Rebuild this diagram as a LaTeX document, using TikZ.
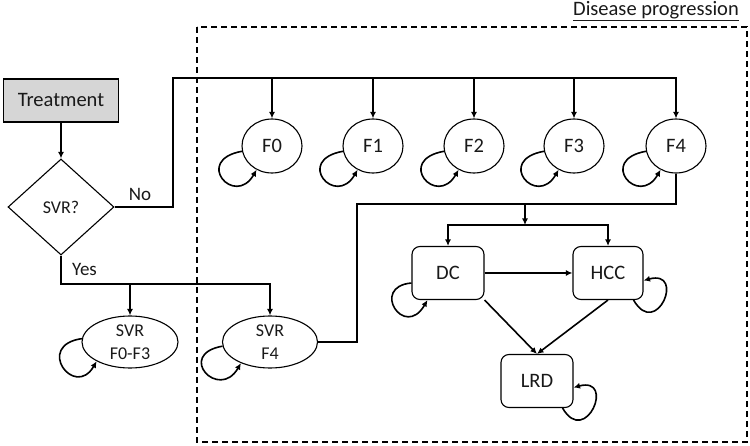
\documentclass[tikz,border=0pt]{standalone}
\usepackage{fontspec}
\setmainfont{Carlito}
\usetikzlibrary{shapes.geometric,arrows.meta}
\begin{document}
\begin{tikzpicture}[x=1pt,y=1pt,
  every node/.style={text=black!90},
  bigfont/.style={font=\fontsize{20.5}{22}\selectfont},
  smallfont/.style={font=\fontsize{18}{23}\selectfont},
  rbox/.style={draw, line width=1.1pt, rounded corners=8pt, minimum width=72pt, minimum height=53pt, inner sep=0pt, bigfont},
  fstate/.style={draw, ellipse, line width=1.1pt, minimum width=60pt, minimum height=54pt, inner sep=0pt, bigfont},
  svrstate/.style={draw, ellipse, line width=1.1pt, minimum width=96pt, minimum height=52pt, inner sep=0pt, align=center, smallfont},
  conn/.style={line width=1.6pt},
  arr/.style={conn, -{Latex[length=6.5pt,width=6pt]}},
  lbl/.style={font=\fontsize{19}{21}\selectfont, inner sep=0pt}]
\useasboundingbox (0,0) rectangle (750,-446);

% frame
\draw[line width=1.3pt, dash pattern=on 6pt off 4pt] (197,-27) rectangle (747,-442);
\node[bigfont, anchor=east, inner sep=0pt] (title) at (739,-11) {\underline{Disease progression}};

% nodes
\node[draw, fill=black!16, line width=1.1pt, minimum width=115pt, minimum height=43pt, inner sep=0pt, bigfont] (treat) at (61,-100.5) {Treatment};
\node[draw, diamond, line width=1.1pt, minimum width=106pt, minimum height=96pt, inner sep=0pt, smallfont] (svrq) at (61,-207) {SVR?};

\node[fstate] (F0) at (272,-146) {F0};
\node[fstate] (F1) at (373,-146) {F1};
\node[fstate] (F2) at (474,-146) {F2};
\node[fstate] (F3) at (574,-146) {F3};
\node[fstate] (F4) at (676,-146) {F4};

\node[svrstate] (SVR03) at (130,-342) {SVR\\F0-F3};
\node[svrstate, minimum width=95pt] (SVR4) at (270,-342) {SVR\\F4};

\node[rbox] (DC) at (448,-273) {DC};
\node[rbox, minimum width=70pt] (HCC) at (608,-273) {HCC};
\node[rbox] (LRD) at (537,-381) {LRD};

\node[lbl] (no) at (140,-194) {No};
\node[lbl] (yes) at (84.5,-269) {Yes};

% helper coordinates
\coordinate (nocorner) at (173,-78);
\coordinate (yesline) at (0,-284);
\coordinate (bend) at (357,-204);
\coordinate (j1) at (525,-204);
\coordinate (j2) at (525,-225);

% connectors
\draw[arr] (treat.south) -- (svrq.north);
\draw[arr] (svrq.east) -| (nocorner) -| (F4.north);
\foreach \f in {F0,F1,F2,F3} \draw[arr] (\f.north |- nocorner) -- (\f.north);

\draw[arr] (svrq.south) |- (SVR4.north |- yesline) -- (SVR4.north);
\draw[arr] (SVR03.north |- yesline) -- (SVR03.north);

\draw[conn] (F4.south) |- (bend) |- (SVR4.east);
\draw[arr] (j1) -- (j2);
\draw[arr] (j2) -| (DC.north);
\draw[arr] (j2) -| (HCC.north);

\draw[arr] (DC.east) -- (HCC.west);
\draw[arr] (DC.south east) -- (LRD.north);
\draw[arr] (HCC.south) -- (LRD.north);

% self loops
\foreach \f in {F0,F1,F2,F3,F4}
  \draw[arr] (\f.190) .. controls +(190:50pt) and +(240:44pt) .. (\f.237);
\draw[arr] (SVR03.176) .. controls +(188:48pt) and +(240:44pt) .. (SVR03.210);
\draw[arr] (SVR4.185) .. controls +(190:48pt) and +(240:44pt) .. (SVR4.216);
\draw[arr] ([yshift=-10pt]DC.west) .. controls +(185:42pt) and +(240:46pt) .. ([xshift=16pt]DC.south west);
\draw[arr] ([xshift=-10pt]HCC.south east) .. controls +(-60:46pt) and +(15:44pt) .. ([yshift=-7.5pt]HCC.east);
\draw[arr] ([xshift=-11pt]LRD.south east) .. controls +(-60:46pt) and +(15:44pt) .. ([yshift=-6.5pt]LRD.east);
\end{tikzpicture}
\end{document}
